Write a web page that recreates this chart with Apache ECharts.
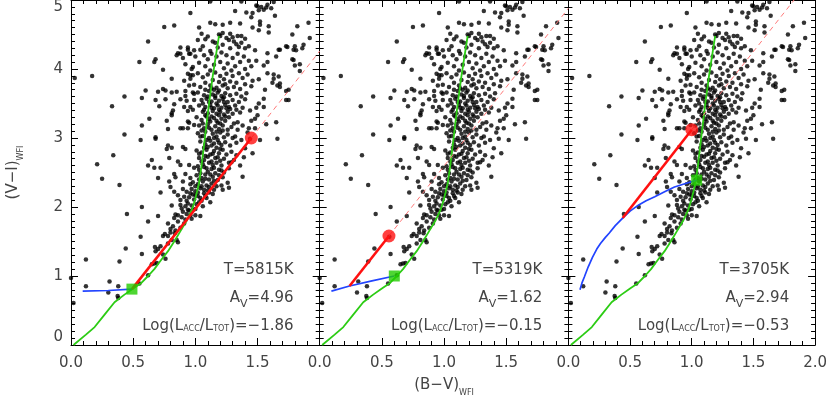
<!DOCTYPE html>
<html><head><meta charset="utf-8">
<script src="https://cdn.jsdelivr.net/npm/echarts@6/dist/echarts.min.js"></script>
<style>html,body{margin:0;padding:0;background:#fff}#c{width:830px;height:399px}</style>
</head><body><div id="c"></div>
<script>
// ---- observed stars (B-V, V-I), same sample in each panel ----
const stars = [
[0.96,4.81],[0.75,4.61],[0.83,4.63],[0.62,4.40],[0.88,4.31],[0.94,4.31],[0.94,4.28],[0.99,4.27],[0.86,4.23],[0.85,4.20],
[0.88,4.22],[0.95,4.22],[0.96,4.22],[0.90,4.16],[0.68,4.14],[0.67,4.10],[0.55,4.10],[0.92,4.07],[0.98,4.03],[0.97,4.00],
[0.74,3.99],[0.03,3.87],[0.17,3.90],[0.94,3.93],[0.96,3.91],[0.98,3.91],[0.81,3.86],[0.91,3.83],[0.96,3.86],[0.99,3.77],
[0.95,3.76],[0.60,3.69],[0.70,3.67],[0.74,3.71],[0.76,3.69],[0.81,3.66],[0.85,3.67],[0.92,3.68],[0.98,3.66],[0.99,3.64],
[0.43,3.60],[0.57,3.58],[0.68,3.55],[0.76,3.56],[0.88,3.56],[0.92,3.61],[0.93,3.54],[0.99,3.55],[0.33,3.46],[0.71,3.46],
[0.83,3.49],[0.91,3.45],[0.96,3.45],[0.98,3.41],[0.82,3.40],[0.94,3.39],[0.81,3.36],
[1.12,4.98],[1.49,4.92],[1.53,4.90],[1.57,4.89],[1.61,4.88],[1.58,4.93],[1.63,4.97],[1.32,4.84],[1.41,4.82],[1.51,4.85],
[1.64,4.77],[1.12,4.67],[1.16,4.65],[1.22,4.64],[1.28,4.67],[1.03,4.60],[1.36,4.66],[1.46,4.60],[1.52,4.64],[1.59,4.62],
[1.51,4.56],[1.59,4.53],[1.05,4.51],[1.08,4.43],[1.19,4.50],[1.20,4.48],[1.22,4.52],[1.28,4.51],[1.30,4.46],[1.34,4.48],
[1.37,4.48],[1.40,4.44],[1.27,4.42],[1.31,4.40],[1.16,4.38],[1.22,4.35],[1.37,4.38],[1.35,4.32],[1.48,4.27],[1.43,4.33],
[1.58,4.23],[1.67,4.28],[1.73,4.33],[1.80,4.33],[1.86,4.30],[1.81,4.27],[1.78,4.14],[1.80,4.05],[1.84,4.07],[1.91,4.67],
[1.78,4.50],[1.92,4.45],[1.04,4.28],[1.07,4.20],[1.10,4.14],[1.03,4.09],[1.49,4.12],[1.55,4.05],[1.58,3.94],[1.63,3.92],
[1.67,3.89],[1.66,3.76],[1.68,3.74],[1.62,3.80],[1.73,3.68],[1.73,3.55],[1.55,3.57],[1.51,3.50],[1.56,3.70],[1.46,3.83],
[1.45,3.75],[1.41,3.65],[1.51,3.85],[1.55,3.45],[1.49,3.44],[1.44,3.40],[1.27,3.45],[1.33,3.41],
[1.37,4.98],[1.45,4.75],[1.46,4.81],[1.52,4.69],[1.82,4.62],[1.87,4.35],[1.74,4.32],[1.79,4.28],[1.79,4.13],[1.84,3.97],
[1.75,3.70],[1.75,3.55],[1.63,3.86],[1.68,3.79],[1.58,4.10],[1.65,4.18],[1.68,4.28],[1.55,4.86],[1.50,4.91],
[1.02,4.42],[1.10,4.47],[1.14,4.40],[1.25,4.45],[1.33,4.36],[1.06,4.33],[1.18,4.31],[1.28,4.30],[1.40,4.30],[1.12,4.26],
[1.00,4.18],[1.13,4.22],[1.17,4.18],[1.21,4.24],[1.25,4.20],[1.30,4.16],[1.34,4.22],[1.39,4.18],[1.43,4.12],[1.20,4.10],
[1.26,4.08],[1.32,4.04],[1.36,4.10],[1.15,4.06],[1.08,4.04],[1.40,4.00],[1.45,4.04],[1.23,4.01],[1.29,3.98],[1.12,3.98],
[1.02,3.94],[1.06,3.88],[1.10,3.92],[1.16,3.95],[1.20,3.90],[1.25,3.93],[1.30,3.90],[1.35,3.94],[1.38,3.87],[1.42,3.92],
[1.14,3.84],[1.19,3.81],[1.23,3.85],[1.28,3.82],[1.33,3.80],[1.08,3.80],[1.04,3.74],[1.12,3.76],[1.17,3.73],[1.22,3.76],
[1.26,3.72],[1.31,3.74],[1.36,3.71],[1.40,3.78],[1.15,3.70],
[1.02,3.66],[1.07,3.62],[1.11,3.68],[1.14,3.63],[1.18,3.66],[1.21,3.61],[1.24,3.65],[1.28,3.62],[1.33,3.64],[1.37,3.60],
[1.05,3.55],[1.09,3.57],[1.13,3.53],[1.16,3.58],[1.19,3.54],[1.22,3.57],[1.26,3.52],[1.30,3.55],[1.35,3.52],[1.40,3.56],
[1.03,3.47],[1.08,3.45],[1.12,3.48],[1.15,3.43],[1.18,3.47],[1.21,3.44],[1.24,3.48],[1.28,3.42],[1.32,3.47],[1.38,3.44],
[1.06,3.38],[1.10,3.36],[1.14,3.39],[1.17,3.35],[1.20,3.38],[1.23,3.34],[1.26,3.38],[1.30,3.35],[1.36,3.37],
[0.63,3.28],[0.57,3.18],[0.43,3.05],[0.56,2.97],[0.68,3.01],[0.68,2.99],[0.77,3.25],[0.78,3.13],[0.81,3.33],[0.88,3.14],
[0.90,3.14],[0.94,3.24],[0.95,3.22],[0.94,3.14],[0.99,3.19],[0.78,2.89],[0.77,2.84],[0.81,2.86],[0.90,2.87],[0.92,2.84],
[0.34,2.75],[0.21,2.62],[0.65,2.68],[0.62,2.60],[0.67,2.57],[0.72,2.57],[0.79,2.71],[0.86,2.66],[0.88,2.61],[0.95,2.61],
[0.70,2.42],[0.25,2.41],[0.39,2.32],[0.83,2.48],[0.84,2.43],[0.79,2.37],[0.80,2.29],[0.90,2.37],[0.92,2.48],[0.96,2.42],
[0.96,2.33],[0.83,2.22],[0.86,2.17],[0.72,2.21],[0.90,2.26],[0.93,2.22],[1.00,2.17],[0.57,2.00],[0.45,1.90],[0.81,2.02],
[0.88,2.03],[0.92,2.01],[0.70,1.87],[0.62,1.79],[0.78,1.76],[0.84,1.89],[0.86,1.88],[0.83,1.84],[0.96,1.88],[0.97,1.83],
[1.01,3.30],[1.05,3.26],[1.09,3.31],[1.12,3.24],[1.15,3.29],[1.18,3.22],[1.21,3.28],[1.24,3.25],[1.27,3.30],[1.31,3.21],
[1.03,3.18],[1.07,3.14],[1.10,3.20],[1.13,3.12],[1.16,3.17],[1.19,3.13],[1.22,3.18],[1.26,3.12],[1.29,3.16],[1.34,3.12],
[1.02,3.07],[1.06,3.03],[1.08,3.09],[1.11,3.00],[1.14,3.06],[1.17,3.02],[1.20,3.08],[1.23,3.01],[1.26,3.05],[1.30,3.00],
[1.04,2.95],[1.08,2.91],[1.12,2.96],[1.15,2.92],[1.18,2.97],[1.21,2.90],[1.24,2.94],[1.28,2.89],[1.33,2.93],[1.37,2.97],
[1.10,2.87],[1.17,2.86],
[1.01,2.82],[1.05,2.79],[1.09,2.83],[1.12,2.76],[1.15,2.81],[1.19,2.78],[1.22,2.83],[1.25,2.76],[1.29,2.80],[1.33,2.75],
[1.03,2.71],[1.07,2.68],[1.10,2.73],[1.13,2.66],[1.16,2.71],[1.20,2.67],[1.23,2.70],[1.27,2.64],[1.31,2.68],[1.06,2.62],
[1.14,2.61],[1.21,2.60],
[0.99,2.57],[1.03,2.54],[1.07,2.58],[1.10,2.51],[1.13,2.55],[1.16,2.49],[1.19,2.54],[1.23,2.50],[1.27,2.56],[1.01,2.46],
[1.05,2.42],[1.08,2.47],[1.11,2.40],[1.14,2.44],[1.18,2.39],[1.22,2.43],[0.98,2.36],[1.02,2.33],[1.06,2.37],[1.09,2.31],
[1.13,2.34],[1.17,2.30],[1.26,2.35],
[0.97,2.26],[1.00,2.23],[1.04,2.27],[1.07,2.20],[1.10,2.24],[1.14,2.19],[0.95,2.14],[0.99,2.11],[1.02,2.16],[1.05,2.09],
[1.09,2.13],[1.12,2.07],[0.94,2.05],[0.97,2.02],[1.01,2.04],[1.06,2.01],
[0.88,2.10],[0.91,2.15],[0.93,2.09],[0.96,2.20],[0.89,1.98],[0.94,1.96],[1.00,1.97],[1.03,2.07],[1.08,2.16],[1.11,2.21],[1.15,2.25],
[1.57,3.20],[1.65,3.23],[1.66,2.99],[1.52,2.97],[1.44,2.99],[1.46,2.78],[1.48,3.14],[1.43,3.14],[1.48,3.28],[1.50,3.33],
[1.38,2.44],[1.27,2.28],[1.29,2.65],[1.32,3.02],[1.38,3.18],[1.34,3.23],[1.04,1.87],[1.00,1.88],[1.21,2.31],[1.22,2.25],
[1.40,2.85],[1.36,2.60],[1.42,3.08],[1.39,2.72],[1.45,3.25],
[0.12,1.24],[0.00,0.97],[0.02,0.61],[0.12,0.85],[0.30,0.76],[0.31,0.92],[0.375,0.71],[0.38,0.68],[0.39,1.21],[0.44,1.40],
[0.57,1.32],[0.55,0.89],[0.65,1.17],[0.67,1.18],[0.69,1.19],[0.675,1.42],[0.72,1.43],[0.70,1.39],[0.68,1.36],[0.755,1.61],
[0.78,1.58],[0.80,1.63],[0.78,1.47],[0.81,1.52],[0.76,1.25],[0.74,1.31],[0.835,1.62],[0.85,1.52],[0.86,1.49],[0.74,1.58],
[0.82,1.72],[0.86,1.79],[0.89,1.85],[0.93,1.90],[0.84,1.66],[0.88,1.70],[0.91,1.76],[0.95,1.95],[0.90,1.93],[0.80,1.68],
[0.92,1.82],[0.98,1.96],[0.56,1.57],[0.38,0.85],[0.62,1.01],
[1.08,3.70],[1.13,3.72],[1.19,3.69],[1.24,3.78],[1.10,3.60],[1.16,3.61],[1.23,3.59],[1.06,3.50],[1.11,3.52],[1.17,3.50],
[1.23,3.52],[1.07,3.41],[1.13,3.44],[1.19,3.41],[1.25,3.43],[1.08,3.33],[1.13,3.31],[1.19,3.33],[1.24,3.31],[1.06,3.21],
[1.11,3.27],[1.17,3.25],[1.20,3.21],[1.05,3.11],[1.11,3.15],[1.17,3.09],[1.22,3.11],[1.04,3.02],[1.09,2.97],[1.15,3.00],
[1.19,2.93],[1.07,2.86],[1.13,2.89],[1.20,2.84],[1.03,2.77],[1.08,2.74],[1.14,2.77],[1.18,2.72],[1.05,2.66],[1.11,2.64],
[1.17,2.64],[1.02,2.59],[1.09,2.56],[1.15,2.57],[1.21,2.53],[1.04,2.49],[1.12,2.47],[1.19,2.46],[1.03,2.40],[1.08,2.41],
[1.15,2.38],[1.00,2.30],[1.05,2.30],[1.11,2.29],[1.02,2.21],[1.07,2.25],[0.98,2.18],[1.04,2.13]
];

// ---- model sequence (green), same in all panels ----
const greenTrack = [[0.02,0.00],[0.12,0.15],[0.19,0.26],[0.27,0.44],[0.35,0.62],[0.43,0.73],[0.50,0.82],[0.56,0.89],
 [0.62,1.00],[0.67,1.10],[0.72,1.22],[0.78,1.36],[0.83,1.50],[0.88,1.65],[0.93,1.80],[0.97,1.95],[1.00,2.12],[1.03,2.35],
 [1.05,2.60],[1.07,2.90],[1.09,3.20],[1.11,3.50],[1.14,3.90],[1.19,4.48]];

// ---- accretion mixing curves (blue) ----
const blue1 = [[0.094,0.78],[0.30,0.79],[0.49,0.81]];
const blue2 = [[0.094,0.78],[0.24,0.855],[0.42,0.93],[0.60,1.00]];
const blue3 = [[0.094,0.80],[0.11,0.90],[0.13,0.99],[0.16,1.13],[0.195,1.27],[0.23,1.39],[0.26,1.47],[0.30,1.56],
 [0.33,1.62],[0.38,1.73],[0.44,1.84],[0.50,1.94],[0.57,2.03],[0.63,2.09],[0.70,2.15],[0.78,2.22],[0.86,2.29],[0.95,2.34],[1.04,2.39]];

// ---- reddening vectors (solid red) and their extensions (dashed) ----
const red1 = [[0.49,0.81],[1.45,3.00]];
const red2 = [[0.24,0.855],[0.557,1.58]];
const red3 = [[0.44,1.84],[1.00,3.12]];
const dash1 = [[1.45,3.00],[2.00,4.26]];
const dash2 = [[0.557,1.58],[2.00,4.88]];
const dash3 = [[1.00,3.12],[1.83,5.00]];

// ---- markers ----
const squarePts = [[0.49,0.81],[0.60,1.00],[1.04,2.39]];
const circlePts = [[1.45,3.00],[0.557,1.58],[1.00,3.12]];

// ---- annotations ----
const tempLabels = ['5815', '5319', '3705'];
const avLabels = ['4.96', '1.62', '2.94'];
const logLabels = ['−1.86', '−0.15', '−0.53'];
const xTickFmt = v => v.toFixed(1);

const blues = [blue1, blue2, blue3];
const reds = [red1, red2, red3];
const dashes = [dash1, dash2, dash3];

const FONT = 'DejaVu Sans';
const INK = '#444';
const L = 71, W = 248.7, TOP = 0, H = 345;

const chart = echarts.init(document.getElementById('c'), null, {renderer: 'canvas'});

const grids = [0,1,2].map(i => ({left: L + i * W, top: TOP, width: W, height: H}));

function xAx(i, pos) {
  return {
    gridIndex: i, type: 'value', position: pos, min: 0, max: 2, interval: 0.5,
    axisLine: {show: true, onZero: false, lineStyle: {color: '#000', width: 1}},
    axisTick: {show: true, inside: true, length: 7, lineStyle: {color: '#000', width: 1}},
    minorTick: {show: true, splitNumber: 5, length: 4, lineStyle: {color: '#000', width: 1}},
    splitLine: {show: false}, minorSplitLine: {show: false},
    axisLabel: {show: pos === 'bottom', margin: 11, fontFamily: FONT, fontSize: 15, color: INK,
      formatter: xTickFmt, showMinLabel: true, showMaxLabel: i === 2}
  };
}
function yAx(i, pos) {
  return {
    gridIndex: i, type: 'value', position: pos, min: 0, max: 5, interval: 1,
    axisLine: {show: true, onZero: false, lineStyle: {color: '#000', width: 1}},
    axisTick: {show: true, inside: true, length: 7, lineStyle: {color: '#000', width: 1}},
    minorTick: {show: true, splitNumber: 10, length: 4, lineStyle: {color: '#000', width: 1}},
    splitLine: {show: false}, minorSplitLine: {show: false},
    axisLabel: {show: i === 0 && pos === 'left', margin: 8, fontFamily: FONT, fontSize: 15, color: INK,
      formatter: v => String(v), showMinLabel: true, showMaxLabel: true,
      verticalAlignMinLabel: 'bottom', verticalAlignMaxLabel: 'top'}
  };
}

const xAxes = [], yAxes = [], series = [];
for (let i = 0; i < 3; i++) {
  xAxes.push(xAx(i, 'bottom'), xAx(i, 'top'));
  yAxes.push(yAx(i, 'left'), yAx(i, 'right'));
  const ax = {xAxisIndex: 2 * i, yAxisIndex: 2 * i};
  series.push(Object.assign({type: 'scatter', data: stars, symbol: 'circle', symbolSize: 4.5,
    itemStyle: {color: '#000'}, silent: true, z: 2}, ax));
  series.push(Object.assign({type: 'line', data: greenTrack, showSymbol: false, silent: true,
    lineStyle: {color: '#2ccc14', width: 1.8}, z: 3}, ax));
  series.push(Object.assign({type: 'line', data: dashes[i], showSymbol: false, silent: true,
    lineStyle: {color: '#ff7a7a', width: 1, type: [5, 4]}, z: 3}, ax));
  series.push(Object.assign({type: 'line', data: blues[i], showSymbol: false, silent: true,
    lineStyle: {color: '#2244ff', width: 1.7}, z: 4}, ax));
  series.push(Object.assign({type: 'line', data: reds[i], showSymbol: false, silent: true,
    lineStyle: {color: '#ff1010', width: 2.6}, z: 4}, ax));
  series.push(Object.assign({type: 'scatter', data: [circlePts[i]], symbol: 'circle', symbolSize: 13,
    itemStyle: {color: '#ff1010'}, silent: true, z: 5}, ax));
  series.push(Object.assign({type: 'scatter', data: [squarePts[i]], symbol: 'rect', symbolSize: 11,
    itemStyle: {color: '#22cc00'}, silent: true, z: 5}, ax));
}

chart.setOption({
  animation: false,
  backgroundColor: '#fff',
  grid: grids,
  xAxis: xAxes,
  yAxis: yAxes,
  series: series
});

// ---- text annotations and axis titles (subscripts via taller token boxes) ----
const rich = {
  m: {fontFamily: FONT, fontSize: 15, color: INK, height: 18, lineHeight: 18, verticalAlign: 'top'},
  v: {fontFamily: FONT, fontSize: 11, color: INK, height: 30, lineHeight: 30, verticalAlign: 'top'},
  c: {fontFamily: FONT, fontSize: 8, color: INK, height: 24, lineHeight: 24, verticalAlign: 'top'},
  s: {fontFamily: FONT, fontSize: 8, color: INK, height: 34, lineHeight: 34, verticalAlign: 'top'}
};
const labelX = 1.79;
const rowY = [1.09, 0.68, 0.28];
const graphics = [];
for (let i = 0; i < 3; i++) {
  const texts = [
    '{m|T=' + tempLabels[i] + 'K}',
    '{m|A}{v|V}{m|=' + avLabels[i] + '}',
    '{m|Log(L}{c|ACC}{m|/L}{c|TOT}{m|)=' + logLabels[i] + '}'
  ];
  texts.forEach((t, k) => {
    const p = chart.convertToPixel({gridIndex: i}, [labelX, rowY[k]]);
    graphics.push({type: 'text', x: p[0], y: p[1] - 9, silent: true, z: 10,
      style: {text: t, rich: rich, align: 'right', verticalAlign: 'top', fill: INK}});
  });
}
const pMid = chart.convertToPixel({gridIndex: 1}, [1.0, 0]);
graphics.push({type: 'text', x: pMid[0], y: 376, silent: true,
  style: {text: '{m|(B−V)}{s|WFI}', rich: rich, align: 'center', verticalAlign: 'top', fill: INK}});
const pY = chart.convertToPixel({gridIndex: 0}, [0, 2.5]);
graphics.push({type: 'text', x: 4, y: pY[1], rotation: Math.PI / 2, silent: true,
  style: {text: '{m|(V−I)}{s|WFI}', rich: rich, align: 'center', verticalAlign: 'top', fill: INK}});
chart.setOption({graphic: graphics});
</script>
</body></html>
